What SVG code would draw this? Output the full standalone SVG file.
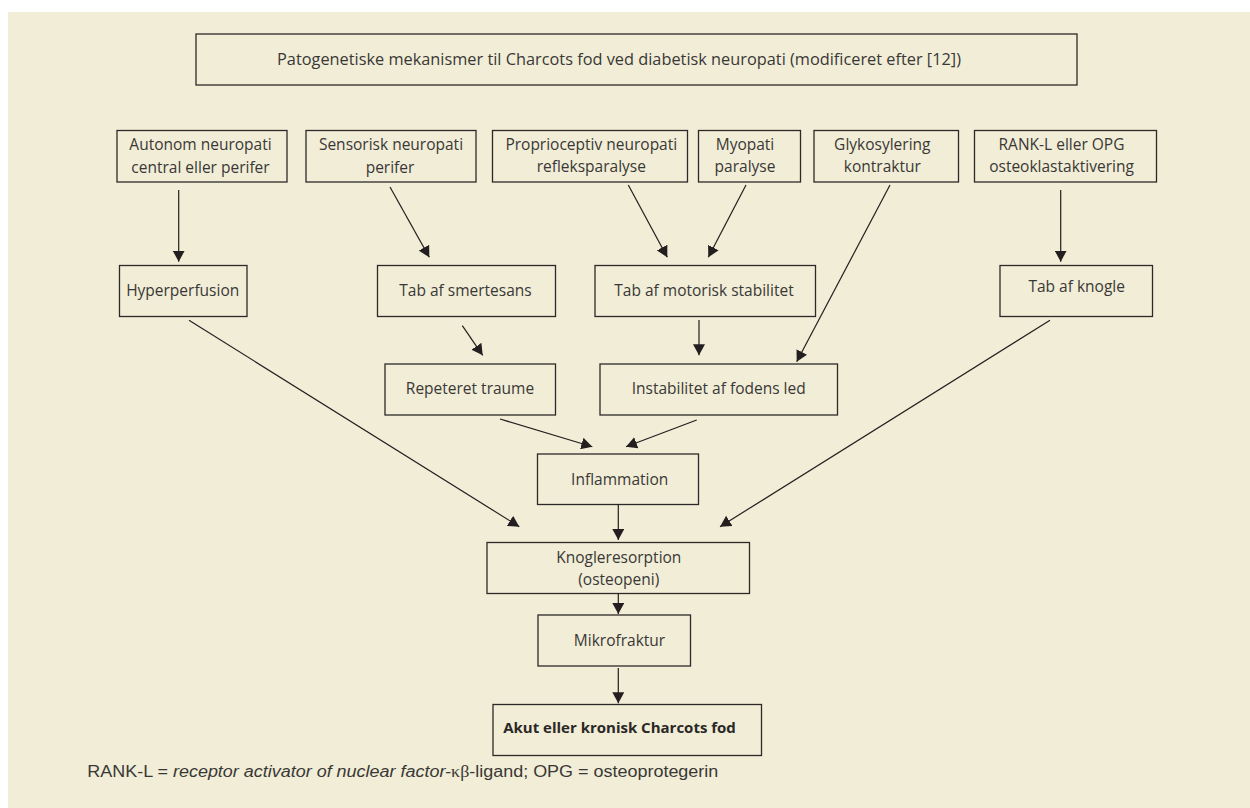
<svg xmlns="http://www.w3.org/2000/svg" width="1250" height="808" viewBox="0 0 1250 808">
<style>
.box{fill:none;stroke:#2b2a28;stroke-width:1.3}
.t{font-family:"Open Sans","Noto Sans","Liberation Sans",sans-serif;font-size:15.5px;fill:#3a3836;text-anchor:middle}
.b{font-weight:bold;fill:#2a2826;font-size:15px}
.c{stroke:#231f20;stroke-width:1.2;fill:none;marker-end:url(#ah)}
.f{font-family:"Liberation Sans",Arial,sans-serif;font-size:16px;fill:#3a3836}
</style>
<defs>
<marker id="ah" markerUnits="userSpaceOnUse" markerWidth="12" markerHeight="12" refX="11" refY="6" orient="auto">
<path d="M0,0 L11,6 L0,12 z" fill="#231f20"/>
</marker>
</defs>
<rect x="0" y="0" width="1250" height="808" fill="#ffffff"/>
<rect x="8" y="12" width="1242" height="796" fill="#f1edd6"/>

<g id="title"><rect class="box" x="196" y="34" width="881" height="51"/><text class="t" x="277" y="64.5" style="text-anchor:start" textLength="684" lengthAdjust="spacingAndGlyphs">Patogenetiske mekanismer til Charcots fod ved diabetisk neuropati (modificeret efter [12])</text></g>

<g id="autonom"><rect class="box" x="117" y="130.5" width="170" height="51.5"/><text class="t" x="200.5" y="149.5">Autonom neuropati</text><text class="t" x="200.5" y="173">central eller perifer</text></g>
<g id="sensorisk"><rect class="box" x="306" y="130.5" width="170" height="51.5"/><text class="t" x="391" y="149.5">Sensorisk neuropati</text><text class="t" x="390" y="173">perifer</text></g>
<g id="proprioceptiv"><rect class="box" x="492.5" y="130.5" width="195" height="51.5"/><text class="t" x="591.3" y="149.5">Proprioceptiv neuropati</text><text class="t" x="591.3" y="172">refleksparalyse</text></g>
<g id="myopati"><rect class="box" x="698.5" y="130.5" width="102" height="51.5"/><text class="t" x="745" y="149.5">Myopati</text><text class="t" x="745" y="172">paralyse</text></g>
<g id="glykosylering"><rect class="box" x="814" y="130.5" width="144.5" height="51.5"/><text class="t" x="882.3" y="149.5">Glykosylering</text><text class="t" x="882.3" y="172">kontraktur</text></g>
<g id="rankl"><rect class="box" x="974.5" y="130.5" width="182" height="51.5"/><text class="t" x="1061.5" y="149.5">RANK-L eller OPG</text><text class="t" x="1061.5" y="172">osteoklastaktivering</text></g>

<g id="hyperperfusion"><rect class="box" x="119.5" y="265.5" width="127.5" height="51"/><text class="t" x="182.7" y="295.5">Hyperperfusion</text></g>
<g id="smertesans"><rect class="box" x="377.5" y="265.5" width="178" height="51"/><text class="t" x="465.5" y="295.5">Tab af smertesans</text></g>
<g id="motorisk"><rect class="box" x="595" y="265.5" width="220.5" height="51"/><text class="t" x="704" y="295.5">Tab af motorisk stabilitet</text></g>
<g id="knogle"><rect class="box" x="1000" y="265.5" width="152.5" height="51"/><text class="t" x="1076.7" y="291.5">Tab af knogle</text></g>

<g id="traume"><rect class="box" x="385" y="364" width="170.5" height="51"/><text class="t" x="470" y="394">Repeteret traume</text></g>
<g id="instabilitet"><rect class="box" x="600" y="364" width="237.5" height="51"/><text class="t" x="718.7" y="394">Instabilitet af fodens led</text></g>

<g id="inflammation"><rect class="box" x="537.5" y="454" width="161" height="50.5"/><text class="t" x="619.7" y="484.5">Inflammation</text></g>
<g id="knogleresorption"><rect class="box" x="487" y="542.5" width="262.5" height="51"/><text class="t" x="618.8" y="562.5">Knogleresorption</text><text class="t" x="618.8" y="585">(osteopeni)</text></g>
<g id="mikrofraktur"><rect class="box" x="538" y="615" width="152.5" height="51"/><text class="t" x="619.5" y="645.5">Mikrofraktur</text></g>
<g id="akut"><rect class="box" x="493" y="704.5" width="268.5" height="51"/><text class="t b" x="619.5" y="732.5">Akut eller kronisk Charcots fod</text></g>

<g id="connectors">
<line class="c" x1="178.7" y1="190" x2="178.7" y2="261.7"/>
<line class="c" x1="390" y1="187" x2="429.3" y2="257.3"/>
<line class="c" x1="628.3" y1="185" x2="667.3" y2="257.3"/>
<line class="c" x1="746" y1="185" x2="708.3" y2="257.3"/>
<line class="c" x1="890" y1="185" x2="796.7" y2="361.7"/>
<line class="c" x1="1060.7" y1="190" x2="1060.7" y2="261.7"/>
<line class="c" x1="462.3" y1="325.7" x2="482.7" y2="355.3"/>
<line class="c" x1="699" y1="320" x2="699" y2="355.3"/>
<line class="c" x1="189" y1="320.3" x2="519.3" y2="526.7"/>
<line class="c" x1="500" y1="419" x2="592.3" y2="446.7"/>
<line class="c" x1="696.7" y1="420" x2="626" y2="446.7"/>
<line class="c" x1="1050" y1="320.3" x2="720" y2="526.7"/>
<line class="c" x1="618.3" y1="504.5" x2="618.3" y2="540"/>
<line class="c" x1="618.3" y1="593.5" x2="618.3" y2="614"/>
<line class="c" x1="618.3" y1="668" x2="618.3" y2="703.3"/>
</g>

<text class="f" x="87.3" y="777" textLength="631" lengthAdjust="spacingAndGlyphs">RANK-L = <tspan font-style="italic">receptor activator of nuclear factor-</tspan><tspan font-family="'Liberation Serif',serif">κβ</tspan>-ligand; OPG = osteoprotegerin</text>
</svg>
